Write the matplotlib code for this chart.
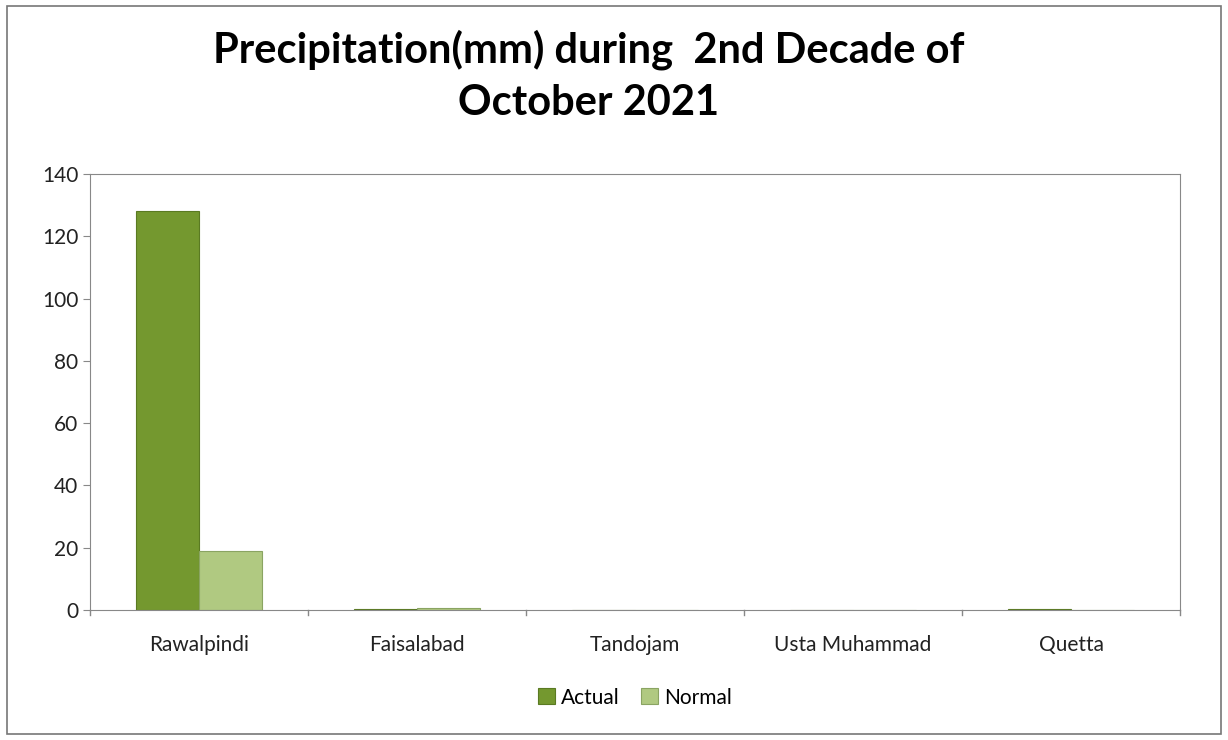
import numpy as np
import matplotlib
matplotlib.use('Agg')
import matplotlib.pyplot as plt
from matplotlib.patches import Rectangle

plt.rcParams['font.family'] = ['Lato', 'DejaVu Sans']

# data
stations = ['Rawalpindi', 'Faisalabad', 'Tandojam', 'Usta Muhammad', 'Quetta']
actual = [128, 0.3, 0, 0, 0.3]
normal = [19, 0.8, 0, 0, 0]

fig = plt.figure(figsize=(12.28, 7.4), dpi=100)
ax = fig.add_axes([90 / 1228, 130 / 740, 1090 / 1228, 436 / 740])

x = np.arange(len(stations))
w = 0.29
ax.bar(x - w / 2, actual, w, color='#74982f', edgecolor='#5a7a22', linewidth=0.8, label='Actual')
ax.bar(x + w / 2, normal, w, color='#b0c981', edgecolor='#8aa462', linewidth=0.8, label='Normal')

ax.set_ylim(0, 140)
ax.set_xlim(-0.5, len(stations) - 0.5)
ax.set_yticks(range(0, 141, 20))
ax.set_xticks(x)
ax.set_xticklabels(stations)
ax.tick_params(axis='both', labelsize=15, colors='#222222', length=5, color='#888888')
ax.tick_params(axis='x', length=0, pad=18)
# tick marks between categories
for b in np.arange(-0.5, len(stations), 1.0):
    ax.plot([b, b], [0, -1.7], color='#888888', lw=1, clip_on=False)
for s in ax.spines.values():
    s.set_color('#888888')

ax.legend(loc='upper center', bbox_to_anchor=(0.5, -0.135), ncol=2, frameon=False,
          fontsize=15, handlelength=0.8, handleheight=0.8, columnspacing=1.0,
          handletextpad=0.3)

fig.text(0.479, 0.96, 'Precipitation(mm) during  2nd Decade of\nOctober 2021',
         ha='center', va='top', fontsize=30, fontweight='bold', linespacing=1.45)

fig.patches.append(Rectangle((0.006, 0.008), 0.988, 0.984, transform=fig.transFigure,
                             fill=False, edgecolor='#777777', linewidth=1.2))

fig.savefig('out.png', dpi=100)
